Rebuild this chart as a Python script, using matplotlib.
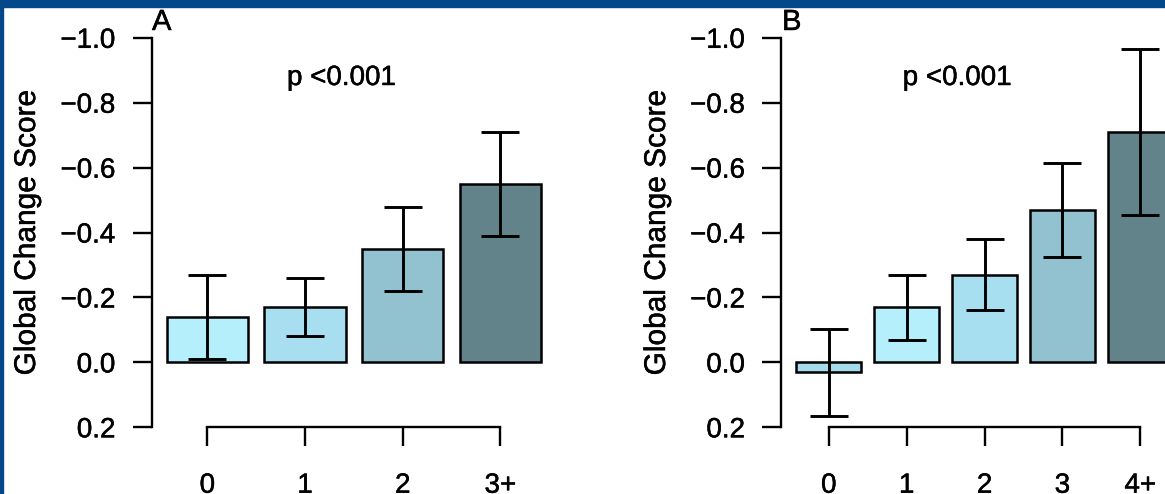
import numpy as np
import matplotlib
matplotlib.use("Agg")
from matplotlib import pyplot as plt
from matplotlib.patches import Rectangle
import matplotlib.patheffects as pe

plt.rcParams["font.family"] = ["Liberation Sans", "DejaVu Sans"]

# data (negative = improvement, y axis is reversed like the original)
cats_a = ["0", "1", "2", "3+"]
means_a = [-0.14, -0.17, -0.35, -0.55]
err_a = [0.13, 0.09, 0.13, 0.16]

cats_b = ["0", "1", "2", "3", "4+"]
means_b = [0.03, -0.17, -0.27, -0.47, -0.71]
err_b = [0.134, 0.10, 0.11, 0.144, 0.255]

cols_a = ["#b5effc", "#a8dff0", "#92c2d0", "#62838a"]
cols_b = ["#a3dbeb", "#b5effc", "#a8dff0", "#92c2d0", "#62838a"]

yticks = [-1.0, -0.8, -0.6, -0.4, -0.2, 0.0, 0.2]
ylabels = ["\u22121.0", "\u22120.8", "\u22120.6", "\u22120.4", "\u22120.2", "0.0", "0.2"]

W, H = 1165, 494
fig = plt.figure(figsize=(W / 100, H / 100), dpi=100)
heavy = [pe.withStroke(linewidth=0.35, foreground="black")]

def px_axes(left, top, right, bottom):
    return fig.add_axes([left / W, 1 - bottom / H, (right - left) / W, (bottom - top) / H])

def panel(ax, cats, means, err, cols, xlim):
    n = len(cats)
    x = 0.7 + 1.2 * np.arange(n)   # barplot positions, width 1, space 0.2
    ax.bar(x, means, width=1.0, color=cols, edgecolor="black", linewidth=1.8, zorder=2)
    ax.errorbar(x, means, yerr=err, fmt="none", ecolor="black", elinewidth=2.1,
                capsize=13.7, capthick=2.1, zorder=3)
    ax.set_xlim(xlim)
    ax.set_ylim(0.2, -1.0)
    ax.set_yticks(yticks, ylabels)
    ax.set_xticks(x, cats)
    for s in ["top", "right"]:
        ax.spines[s].set_visible(False)
    ax.spines["left"].set_linewidth(1.7)
    ax.spines["bottom"].set_linewidth(1.7)
    ax.spines["bottom"].set_bounds(x[0], x[-1])
    ax.tick_params(axis="both", direction="out", length=13.7, width=1.7, labelsize=20)
    ax.tick_params(axis="y", pad=12.5)
    ax.tick_params(axis="x", pad=19)
    for t in ax.get_xticklabels() + ax.get_yticklabels():
        t.set_path_effects(heavy)
    ax.patch.set_visible(False)

# panel A: 81.4 px per unit, xlim (0.016, 4.984)
ax1 = px_axes(151.7, 37.8, 151.7 + 4.968 * 81.4, 427.3)
panel(ax1, cats_a, means_a, err_a, cols_a, (0.016, 4.984))

# panel B: 64.9 px per unit, runs past the right edge like the crop
ax2 = px_axes(781.3, 37.8, 781.3 + 6.264 * 64.9, 427.3)
panel(ax2, cats_b, means_b, err_b, cols_b, (-0.032, 6.232))

def ftext(x, y, s, **kw):
    fig.text(x / W, 1 - y / H, s, path_effects=heavy, **kw)

ftext(27, 232.5, "Global Change Score", rotation=90, ha="center", va="center", fontsize=21.5)
ftext(657, 232.5, "Global Change Score", rotation=90, ha="center", va="center", fontsize=21.5)
ftext(287, 85, "p <0.001", ha="left", va="baseline", fontsize=20)
ftext(902.7, 85, "p <0.001", ha="left", va="baseline", fontsize=20)
ftext(152, 30, "A", ha="left", va="baseline", fontsize=21)
ftext(782, 30, "B", ha="left", va="baseline", fontsize=21)

# dark blue frame of the slide
fig.patches.append(Rectangle((0, 1 - 7.5 / H), 1, 7.5 / H, transform=fig.transFigure,
                             color="#03498a", zorder=10))
fig.patches.append(Rectangle((0, 0), 2.7 / W, 1, transform=fig.transFigure,
                             color="#03498a", zorder=10))

fig.savefig("out.png", dpi=100)
